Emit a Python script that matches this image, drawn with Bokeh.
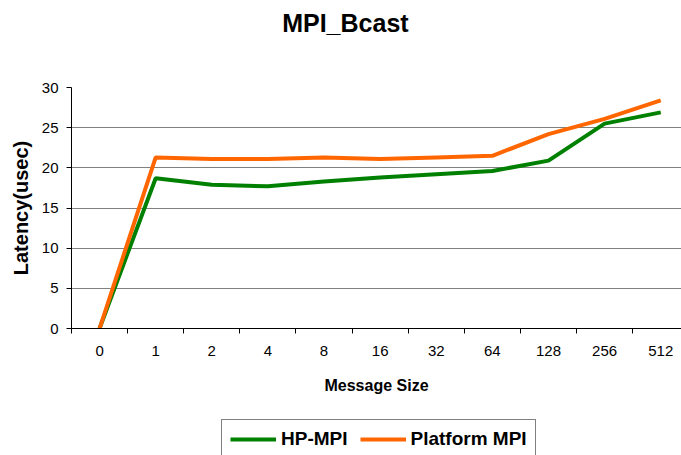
from bokeh.plotting import figure
from bokeh.models import Range1d, FixedTicker, Legend, LegendItem, Label
from bokeh.layouts import column
from bokeh.embed import file_html
from bokeh.resources import INLINE

title_text = "MPI_Bcast"
categories = ["0", "1", "2", "4", "8", "16", "32", "64", "128", "256", "512"]
hp_mpi = [0, 18.7, 17.9, 17.7, 18.3, 18.8, 19.2, 19.6, 20.9, 25.5, 26.9]
platform_mpi = [0, 21.3, 21.1, 21.1, 21.3, 21.1, 21.3, 21.5, 24.2, 26.1, 28.4]
y_ticks = [0, 5, 10, 15, 20, 25, 30]
series_names = ["HP-MPI", "Platform MPI"]
series_colors = ["#008000", "#FF6600"]
series_values = [hp_mpi, platform_mpi]

xs = list(range(len(categories)))
FONT = "Liberation Sans"

# title strip
tf = figure(width=681, height=45, output_backend="svg", toolbar_location=None,
            x_range=Range1d(0, 1), y_range=Range1d(0, 45), min_border=0)
tf.axis.visible = False
tf.grid.visible = False
tf.outline_line_color = None
tf.add_layout(Label(x=0.449, y=23, text=title_text, text_font=FONT, text_font_size="25px",
                    text_font_style="bold", text_color="black",
                    text_align="center", text_baseline="middle"))

# main chart
p = figure(width=681, height=373, output_backend="svg", toolbar_location=None,
           x_range=Range1d(-0.5, len(categories) - 0.63), y_range=Range1d(0, 30),
           min_border_left=71, min_border_top=42, min_border_bottom=90, min_border_right=0)
p.outline_line_color = None
p.background_fill_color = "white"

# x axis: labels at category centres, tick marks between categories
p.xaxis.ticker = FixedTicker(ticks=xs, minor_ticks=[x - 0.5 for x in xs] + [xs[-1] + 0.5])
p.xaxis.major_label_overrides = {i: c for i, c in enumerate(categories)}
p.xaxis.major_tick_line_color = None
p.xaxis.major_tick_out = 5
p.xaxis.major_tick_in = 0
p.xaxis.minor_tick_line_color = "black"
p.xaxis.minor_tick_out = 5
p.xaxis.minor_tick_in = 0
p.xaxis.axis_line_color = "black"
p.xaxis.major_label_text_font = FONT
p.xaxis.major_label_text_font_size = "15px"
p.xaxis.major_label_text_color = "black"
p.xaxis.major_label_standoff = 12
p.xaxis.axis_label = "Message Size"
p.xaxis.axis_label_text_font = FONT
p.xaxis.axis_label_text_font_size = "16px"
p.xaxis.axis_label_text_font_style = "bold"
p.xaxis.axis_label_text_color = "black"
p.xaxis.axis_label_standoff = 18

p.yaxis.ticker = FixedTicker(ticks=y_ticks)
p.yaxis.minor_tick_line_color = None
p.yaxis.major_tick_out = 5
p.yaxis.major_tick_in = 0
p.yaxis.axis_line_color = "black"
p.yaxis.major_label_text_font = FONT
p.yaxis.major_label_text_font_size = "15px"
p.yaxis.major_label_text_color = "black"
p.yaxis.major_label_standoff = 8
p.yaxis.axis_label = "Latency(usec)"
p.yaxis.axis_label_text_font = FONT
p.yaxis.axis_label_text_font_size = "20px"
p.yaxis.axis_label_text_font_style = "bold"
p.yaxis.axis_label_text_color = "black"
p.yaxis.axis_label_standoff = 7

p.xgrid.grid_line_color = None
p.ygrid.ticker = FixedTicker(ticks=y_ticks)
p.ygrid.grid_line_color = "#808080"
p.ygrid.grid_line_width = 1

for vals, c in zip(series_values, series_colors):
    p.line(xs, vals, line_color=c, line_width=4)

# legend strip below the chart (its own lines lie outside its view)
lg = figure(width=681, height=37, output_backend="svg", toolbar_location=None,
            x_range=Range1d(0, 1), y_range=Range1d(-2, -1), min_border=0)
lg.axis.visible = False
lg.grid.visible = False
lg.outline_line_color = None
lr = [lg.line(xs, vals, line_color=c, line_width=4) for vals, c in zip(series_values, series_colors)]

legend = Legend(items=[LegendItem(label=n, renderers=[r]) for n, r in zip(series_names, lr)],
                orientation="horizontal", location=(150, -4))
legend.label_text_font = FONT
legend.label_text_font_size = "19px"
legend.label_text_font_style = "bold"
legend.label_text_color = "black"
legend.border_line_color = "black"
legend.border_line_width = 1
legend.glyph_width = 46
legend.spacing = 12
legend.padding = 8
legend.margin = 0
legend.label_standoff = 5
legend.background_fill_alpha = 0
lg.add_layout(legend, "center")

open("out.html", "w").write(file_html(column(tf, p, lg), INLINE))
